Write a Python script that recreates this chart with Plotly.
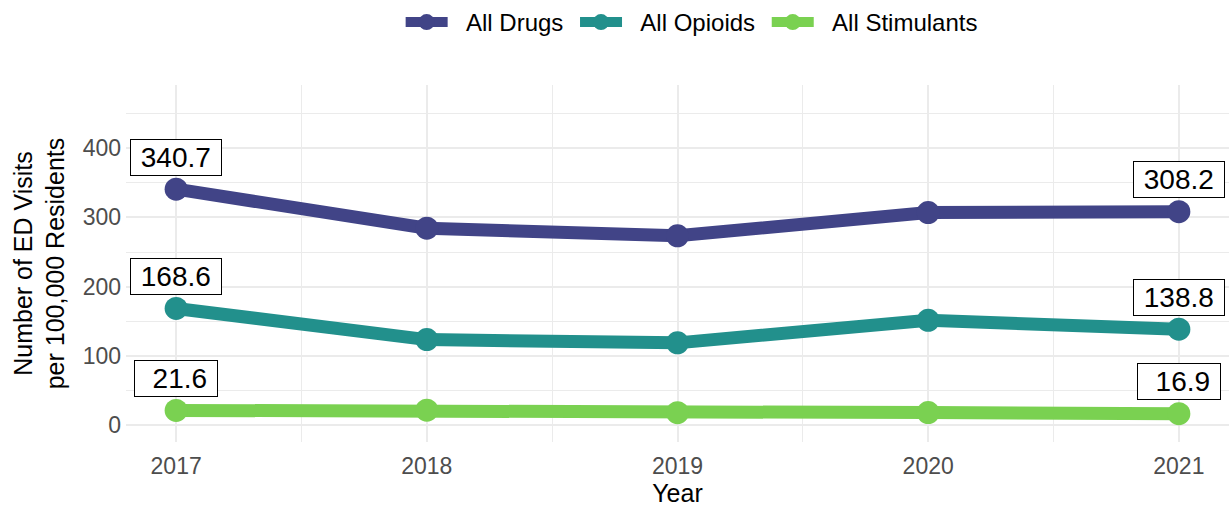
import plotly.graph_objects as go

years = [2017, 2018, 2019, 2020, 2021]
all_drugs = [340.7, 284.5, 273.4, 306.9, 308.2]
all_opioids = [168.6, 123.7, 119.0, 151.5, 138.8]
all_stimulants = [21.6, 21.9, 18.3, 18.4, 16.9]
series_names = ["All Drugs", "All Opioids", "All Stimulants"]
series_colors = ["#414487", "#22908C", "#7AD151"]
series_values = [all_drugs, all_opioids, all_stimulants]
y_ticks = [0, 100, 200, 300, 400]

FONT = "Liberation Sans, Arial, sans-serif"
NB = "\u00a0"

fig = go.Figure()
for name, color, vals in zip(series_names, series_colors, series_values):
    fig.add_trace(go.Scatter(
        x=years, y=vals, name=NB * 2 + name + NB, mode="lines+markers",
        line=dict(color=color, width=13),
        marker=dict(color=color, size=23),
    ))

def fmt(v, width):
    s = f"{v:.1f}".rjust(width)
    return NB + s.replace(" ", NB) + NB

annotations = []
for vals in series_values:
    for idx in (0, len(years) - 1):
        annotations.append(dict(
            x=years[idx], y=vals[idx], xref="x", yref="y",
            text=fmt(vals[idx], 5),
            showarrow=False, yshift=32, yanchor="middle",
            font=dict(size=28, color="black", family=FONT),
            bgcolor="white", bordercolor="black", borderwidth=1, borderpad=2,
        ))

fig.update_layout(
    width=1229, height=514,
    margin=dict(l=126, r=0, t=85, b=72),
    paper_bgcolor="white", plot_bgcolor="white",
    font=dict(family=FONT, color="black"),
    legend=dict(orientation="h", x=0.516, xanchor="center", xref="paper",
                y=1.0, yref="container", yanchor="top",
                font=dict(size=24), itemwidth=42),
    annotations=annotations,
    xaxis=dict(
        range=[2016.8, 2021.2], tickvals=years, ticktext=[str(y) for y in years],
        tickfont=dict(size=23, color="#4D4D4D"), showline=False, zeroline=False,
        showgrid=True, gridcolor="#EBEBEB", gridwidth=2,
        minor=dict(dtick=0.5, tick0=2017, showgrid=True, gridcolor="#EBEBEB", gridwidth=1),
        title=dict(text="Year", font=dict(size=25), standoff=4),
        ticks="", ticklabelstandoff=8,
    ),
    yaxis=dict(
        range=[-24, 491], tickvals=y_ticks,
        tickfont=dict(size=23, color="#4D4D4D"), showline=False, zeroline=False,
        showgrid=True, gridcolor="#EBEBEB", gridwidth=2,
        minor=dict(dtick=50, tick0=0, showgrid=True, gridcolor="#EBEBEB", gridwidth=1),
        title=dict(text="Number of ED Visits<br>per 100,000 Residents", font=dict(size=25), standoff=10),
        ticks="", ticklabelstandoff=4,
    ),
)

fig.write_html("out.html")
